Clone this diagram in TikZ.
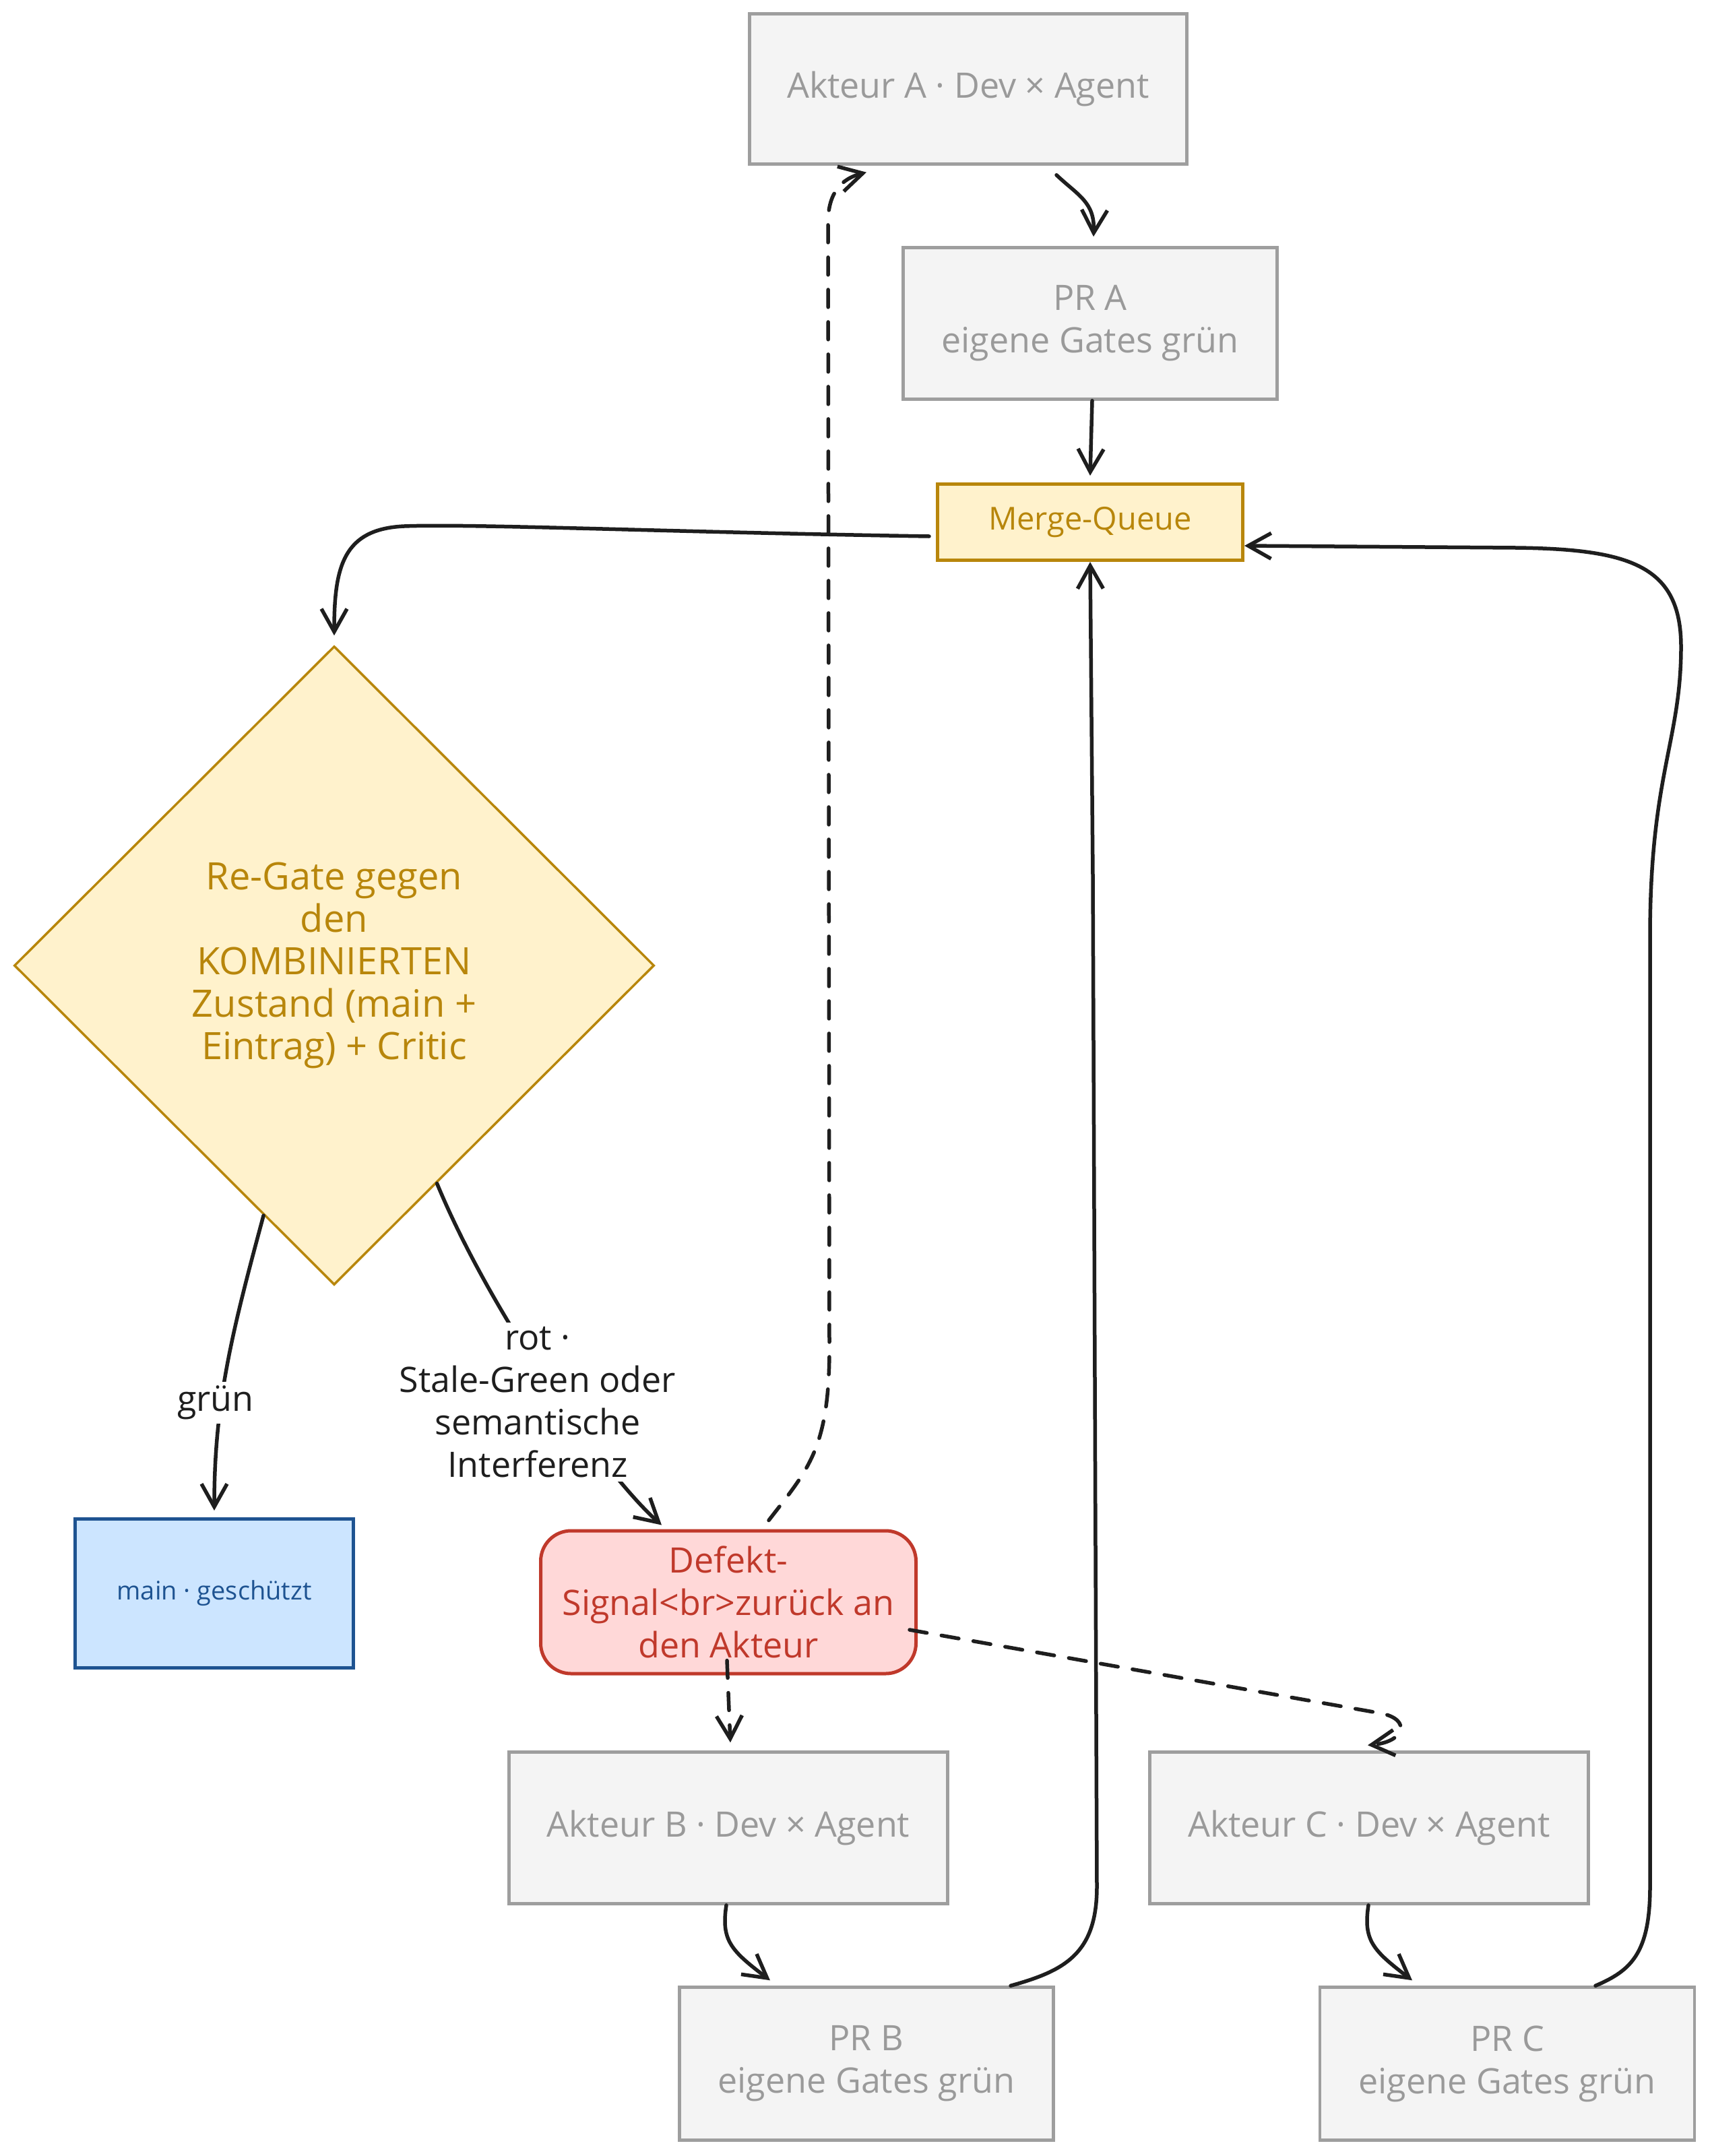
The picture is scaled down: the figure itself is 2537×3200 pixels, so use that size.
\documentclass[tikz,border=0pt]{standalone}
\usepackage{fontspec}
\setmainfont{Open Sans}
\usetikzlibrary{arrows.meta,shapes.geometric,calc}
\definecolor{ink}{HTML}{1E1E1E}
\definecolor{grayline}{HTML}{9E9E9E}
\definecolor{grayfill}{HTML}{F4F4F4}
\definecolor{graytext}{HTML}{9A9A9A}
\definecolor{gold}{HTML}{B8860B}
\definecolor{goldfill}{HTML}{FFF2CC}
\definecolor{blueline}{HTML}{1E5391}
\definecolor{bluefill}{HTML}{CCE5FF}
\definecolor{redline}{HTML}{C0392B}
\definecolor{redfill}{HTML}{FFD8D8}
\tikzset{
  txt/.style={font=\fontsize{52}{63}\selectfont, align=center},
  graybox/.style={txt, draw=grayline, fill=grayfill, text=graytext, line width=4.5pt, inner sep=0pt},
  queuebox/.style={draw=gold, fill=goldfill, text=gold, line width=5pt, inner sep=0pt, font=\fontsize{47}{60}\selectfont},
  decision/.style={font=\fontsize{56}{63}\selectfont, align=center, diamond, aspect=1, draw=gold, fill=goldfill, text=gold, line width=3.5pt, inner sep=0pt},
  mainbox/.style={draw=blueline, fill=bluefill, text=blueline, line width=5pt, inner sep=0pt, font=\fontsize{38}{46}\selectfont},
  defectbox/.style={txt, draw=redline, fill=redfill, text=redline, line width=5pt, rounded corners=45pt, inner sep=0pt},
  edge/.style={draw=ink, line width=5.5pt, line cap=round, line join=round, -{Straight Barb[length=34pt,width=38pt,line width=5.5pt]}},
  dashedge/.style={edge, dash pattern=on 26pt off 22pt},
  lbl/.style={txt, fill=white, text=ink, inner sep=6pt}
}
\begin{document}
\begin{tikzpicture}[x=1pt,y=-1pt]
\useasboundingbox (0,0) rectangle (2537,3200);
\fill[white] (0,0) rectangle (2537,3200);

% nodes
\node[graybox, minimum width=649pt, minimum height=223pt] (akA) at (1437,132) {Akteur A · Dev × Agent};
\node[graybox, minimum width=555pt, minimum height=225pt] (prA) at (1618,480) {PR A\\eigene Gates grün};
\node[queuebox, minimum width=453pt, minimum height=113pt] (mq) at (1618,775) {Merge-Queue};
\node[decision, minimum width=950pt, minimum height=948pt] (dia) at (496,1433)
  {Re-Gate gegen\\den\\KOMBINIERTEN\\Zustand (main +\\Eintrag) + Critic};
\node[mainbox, minimum width=413pt, minimum height=221pt] (main) at (318,2365) {main · geschützt};
\node[defectbox, minimum width=557pt, minimum height=212pt] (def) at (1081,2378)
  {Defekt-\\Signal<br>zurück an\\den Akteur};
\node[graybox, minimum width=651pt, minimum height=225pt] (akB) at (1081,2713) {Akteur B · Dev × Agent};
\node[graybox, minimum width=651pt, minimum height=225pt] (akC) at (2032,2713) {Akteur C · Dev × Agent};
\node[graybox, minimum width=555pt, minimum height=227pt] (prB) at (1286,3063) {PR B\\eigene Gates grün};
\node[graybox, minimum width=556pt, minimum height=227pt] (prC) at (2237,3063) {PR C\\eigene Gates grün};

% connectors
\draw[edge] ($(akA.south)+(131,14)$) .. controls (1600,290) and (1625,300) .. ($(prA.north)+(5,-14)$);
\draw[edge] ($(prA.south)+(3,0)$) -- ($(mq.north)+(0,-10)$);
\draw[edge] ($(mq.west)+(-10,21)$) .. controls (1000,790) and (700,777) .. (600,781)
  .. controls (510,785) and (496,840) .. ($(dia.north)+(0,-14)$);

\draw[edge] ($(dia.south)!0.22!(dia.west)$) .. controls (345,1975) and (318,2080) .. ($(main.north)+(0,-10)$);
\node[lbl] (lgr) at (320,2082) {grün};

\draw[edge] ($(dia.south)!0.32!(dia.east)$) .. controls (731,1956) and (902,2193) .. ($(def.north)+(-99,-6)$);
\node[lbl] (lrot) at (798,2081) {rot ·\\Stale-Green oder\\semantische\\Interferenz};

\draw[dashedge] ($(def.north)+(60,-13)$) .. controls (1200,2180) and (1231,2150) .. (1231,2000)
  -- (1229,330) .. controls (1229,285) and (1250,265) .. ($(akA.south)+(-151,10)$);
\draw[dashedge] ($(def.south)+(-2,-22)$) -- ($(akB.north)+(3,-12)$);
\draw[dashedge] ($(def.east)+(-12,41)$) -- (2050,2543) .. controls (2095,2552) and (2085,2585) .. ($(akC.north)+(-2,-8)$);

\draw[edge] ($(akB.south)+(-3,0)$) .. controls (1070,2880) and (1085,2895) .. ($(prB.north)+(-143,-8)$);
\draw[edge] ($(akC.south)+(-1,0)$) .. controls (2023,2880) and (2038,2895) .. ($(prC.north)+(-141,-8)$);

\draw[edge] ($(prB.north)+(214,0)$) .. controls (1580,2925) and (1628,2900) .. (1628,2800)
  -- (1622,1300) -- (mq.south);
\draw[edge] ($(prC.north)+(131,0)$) .. controls (2420,2925) and (2449,2900) .. (2449,2800)
  -- (2449,1390) .. controls (2449,1150) and (2495,1100) .. (2495,960)
  .. controls (2495,840) and (2420,815) .. (2250,813) -- ($(mq.east)+(0,35)$);
\end{tikzpicture}
\end{document}
